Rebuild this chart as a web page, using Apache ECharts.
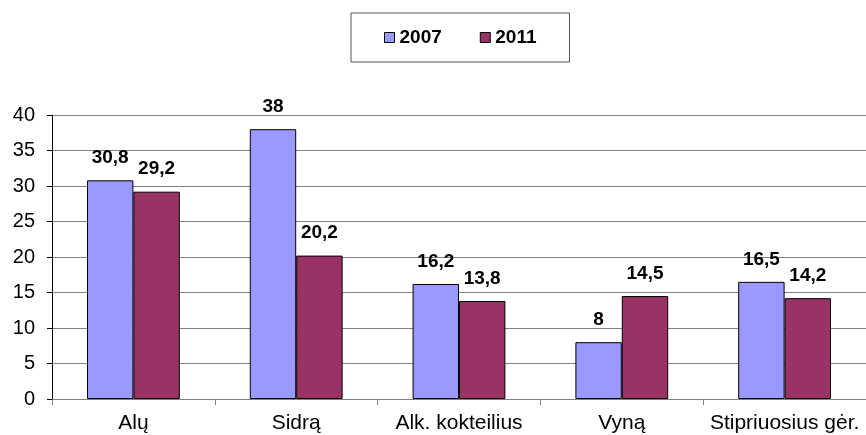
<!DOCTYPE html>
<html>
<head>
<meta charset="utf-8">
<script src="https://cdn.jsdelivr.net/npm/echarts@6/dist/echarts.min.js"></script>
<style>
  html, body { margin: 0; padding: 0; background: #fff; }
  #chart { width: 866px; height: 435px; }
</style>
</head>
<body>
<div id="chart"></div>
<script>
var categories = ['Alų', 'Sidrą', 'Alk. kokteilius', 'Vyną', 'Stipriuosius gėr.'];
var values2007 = [30.8, 38, 16.2, 8, 16.5];
var values2011 = [29.2, 20.2, 13.8, 14.5, 14.2];
var seriesNames = ['2007', '2011'];

var fontFamily = 'Liberation Sans, Arial, sans-serif';

// decimal comma like the original
function labelText(p) {
    return String(p.value).replace('.', ',');
}

function makeSeries(name, data, color) {
    return {
        name: name,
        type: 'bar',
        data: data,
        barGap: '0%',
        barCategoryGap: '43%',
        itemStyle: { color: color, borderColor: '#000', borderWidth: 1 },
        label: {
            show: true,
            position: 'top',
            distance: 13,
            formatter: labelText,
            color: '#000',
            fontWeight: 'bold',
            fontSize: 19,
            fontFamily: fontFamily
        }
    };
}

var chart = echarts.init(document.getElementById('chart'));
chart.setOption({
    animation: false,
    backgroundColor: '#fff',
    legend: {
        left: 351,
        top: 13,
        padding: [15, 33],
        itemGap: 38,
        itemWidth: 10,
        itemHeight: 10,
        icon: 'rect',
        borderColor: '#555',
        borderWidth: 1,
        itemStyle: { borderColor: '#000', borderWidth: 1 },
        textStyle: { fontWeight: 'bold', fontSize: 19, color: '#000', fontFamily: fontFamily },
        data: seriesNames
    },
    grid: { left: 52, right: 0, top: 115, bottom: 36, containLabel: false },
    xAxis: {
        type: 'category',
        data: categories,
        axisLine: { lineStyle: { color: '#808080', width: 1 } },
        axisTick: { show: true, length: 6, lineStyle: { color: '#808080' } },
        axisLabel: { color: '#000', fontSize: 21, fontFamily: fontFamily, margin: 14, interval: 0, hideOverlap: false }
    },
    yAxis: {
        type: 'value',
        min: 0,
        max: 40,
        interval: 5,
        axisLine: { show: true, lineStyle: { color: '#000', width: 1 } },
        axisTick: { show: true, inside: false, length: 5, lineStyle: { color: '#000' } },
        axisLabel: { color: '#000', fontSize: 20, fontFamily: fontFamily, margin: 17 },
        splitLine: { show: true, lineStyle: { color: '#808080', width: 1 } }
    },
    series: [
        makeSeries(seriesNames[0], values2007, '#9999FF'),
        makeSeries(seriesNames[1], values2011, '#993366')
    ]
});
</script>
</body>
</html>
